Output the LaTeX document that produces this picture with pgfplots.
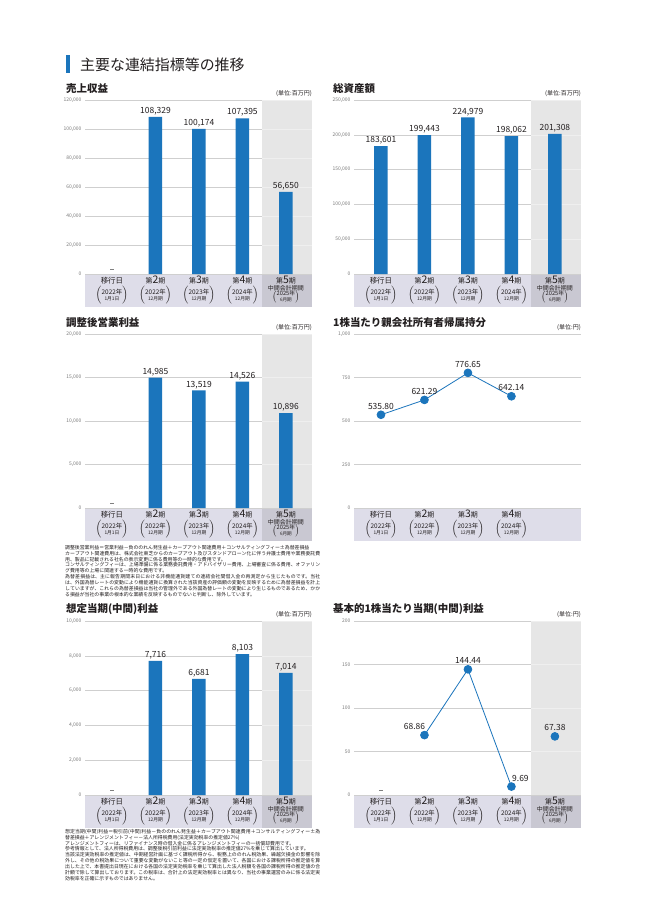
\documentclass[border=0pt]{standalone}
\usepackage{fontspec}
\setmainfont{Noto Sans CJK JP}
\usepackage{pgfplots}
\pgfplotsset{compat=1.18}
\XeTeXlinebreaklocale "ja"
\XeTeXlinebreakskip=0pt plus 1pt

\definecolor{barblue}{HTML}{1B75BC}
\definecolor{colgray}{HTML}{E6E6E6}
\definecolor{colgrid}{HTML}{EFEFEF}
\definecolor{bandcol}{HTML}{DEDDE9}
\definecolor{banddark}{HTML}{C9C8D2}
\definecolor{gridgray}{HTML}{CFCFCF}
\definecolor{tickgray}{HTML}{7A7A7A}
\definecolor{txt}{HTML}{231F20}

% category labels (each one a box, so the tick label mode does not matter)
\newcommand{\catlab}[1]{\hbox{\fontsize{7}{8}\selectfont\def\arraystretch{1}\begin{tabular}[t]{@{}c@{}}#1\end{tabular}}}
\newcommand{\ki}[1]{\rule{0pt}{8bp}{\fontsize{7}{8}\selectfont 第}{\fontsize{10.5}{10}\selectfont #1}{\fontsize{7}{8}\selectfont 期}}
\newcommand{\kk}[2]{$\left(\vcenter{\hbox{\fontsize{6.4}{6.4}\selectfont\begin{tabular}{@{}c@{}}#1\\\fontsize{4.8}{5}\selectfont #2\end{tabular}}}\right)$}
\newcommand{\kks}[2]{$\left(\vcenter{\hbox{\fontsize{5.8}{5.6}\selectfont\begin{tabular}{@{}c@{}}#1\\\fontsize{4.6}{4.6}\selectfont #2\end{tabular}}}\right)$}
\newcommand{\catA}{\catlab{\rule{0pt}{8bp}{\fontsize{7.5}{8}\selectfont 移行日}\\[0.5bp]\kk{2022年}{1月1日}}}
\newcommand{\catB}{\catlab{\ki{2}\\[0.5bp]\kk{2022年}{12月期}}}
\newcommand{\catC}{\catlab{\ki{3}\\[0.5bp]\kk{2023年}{12月期}}}
\newcommand{\catD}{\catlab{\ki{4}\\[0.5bp]\kk{2024年}{12月期}}}
\newcommand{\catE}{\catlab{\ki{5}\\[-1.5bp]{\fontsize{6}{6.2}\selectfont 中間会計期間}\\[-2bp]\kks{2025年}{6月期}}}

% background of one panel: category band, and the grey column of the 5th period
% #1 left x, #2 y of the zero line, #3 = 1 with the grey column
\newcommand{\panelbg}[3]{%
  \fill[bandcol] (#1bp,-#2bp) rectangle ++(227bp,-33bp);
  \ifnum#3=1
    \fill[colgray] (#1bp+177bp,-#2bp) rectangle ++(50bp,174bp);
    \fill[banddark] (#1bp+177bp,-#2bp) rectangle ++(50bp,-33bp);
  \fi}
\newcommand{\colgrid}[1]{\pgfplotsinvokeforeach{#1}{\draw[colgrid,line width=0.5bp] (axis cs:3.45,##1) -- (axis cs:4.6,##1);}}
\newcommand{\unit}[1]{\node[anchor=south east, inner sep=0, yshift=3.5bp, font=\fontsize{6}{6.5}\selectfont, text=txt] at (rel axis cs:1,1) {(単位:#1)};}
\newcommand{\dash}{\fill[black!50] ([xshift=-2.2bp,yshift=3.6bp]axis cs:0,0) rectangle ([xshift=2.2bp,yshift=4.6bp]axis cs:0,0);}

\pgfplotsset{
  panel/.style={
    scale only axis, width=227bp, height=174bp, anchor=south west,
    xmin=-0.62, xmax=4.6, ymin=0, clip=false,
    axis line style={draw=none}, major tick length=0pt,
    ymajorgrids, grid style={draw=gridgray, line width=0.5bp},
    xtick={0,...,4},
    scaled y ticks=false,
    /pgf/number format/fixed,
    /pgf/number format/assume math mode=true,
    /pgf/number format/1000 sep={,},
    yticklabel style={font=\fontsize{5}{5}\selectfont, text=tickgray},
    xticklabel style={text=txt, anchor=north, inner sep=1.5bp},
  },
  bars/.style={ybar, bar width=13.5bp, fill=barblue, draw=none,
    nodes near coords,
    every node near coord/.append style={font=\fontsize{8.5}{9}\selectfont, text=txt, inner sep=1bp, yshift=0.5bp}},
  lineplot/.style={color=barblue, line width=0.8bp, mark=*, mark size=3.9bp,
    mark options={solid, fill=barblue, draw=barblue},
    nodes near coords={\pgfmathprintnumber[fixed,fixed zerofill,precision=2]{\pgfplotspointmeta}},
    every node near coord/.append style={font=\fontsize{8.5}{9}\selectfont, text=txt, anchor=south, inner sep=1bp, yshift=4bp}},
}
\tikzset{
  ptitle/.style={anchor=base west, inner sep=0, font=\fontsize{10.5}{11}\selectfont\bfseries, text=txt},
  note/.style={anchor=north west, inner sep=0, text width=255bp, align=justify, font=\fontsize{4.9}{5.85}\selectfont, text=txt},
}

\begin{document}
\begin{tikzpicture}
\useasboundingbox[fill=white] (0,0) rectangle (648bp,-915bp);

\fill[barblue] (66bp,-55bp) rectangle (69.5bp,-73bp);
\node[anchor=base west, inner sep=0, font=\fontsize{15}{15}\selectfont, text=txt] at (80bp,-70.5bp) {主要な連結指標等の推移};

\node[ptitle] at (66bp,-92bp) {売上収益};
\node[ptitle] at (333bp,-92bp) {総資産額};
\node[ptitle] at (66bp,-326bp) {調整後営業利益};
\node[ptitle] at (333bp,-326bp) {1株当たり親会社所有者帰属持分};
\node[ptitle] at (66bp,-612bp) {想定当期(中間)利益};
\node[ptitle] at (333bp,-612bp) {基本的1株当たり当期(中間)利益};

\panelbg{85}{274}{1}
\panelbg{354}{274}{1}
\panelbg{85}{508}{1}
\panelbg{354}{508}{0}
\panelbg{85}{795}{1}
\panelbg{354}{795}{1}

% ---- 売上収益
\begin{axis}[panel, at={(85bp,-274bp)}, ymax=120000,
  ytick={0,20000,40000,60000,80000,100000,120000},
  xticklabels={\catA,\catB,\catC,\catD,\catE}]
\colgrid{20000,40000,60000,80000,100000,120000}
\addplot[bars] coordinates {(1,108329) (2,100174) (3,107395) (4,56650)};
\dash
\unit{百万円}
\end{axis}

% ---- 総資産額
\begin{axis}[panel, at={(354bp,-274bp)}, ymax=250000,
  ytick={0,50000,100000,150000,200000,250000},
  xticklabels={\catA,\catB,\catC,\catD,\catE}]
\colgrid{50000,100000,150000,200000,250000}
\addplot[bars] coordinates {(0,183601) (1,199443) (2,224979) (3,198062) (4,201308)};
\unit{百万円}
\end{axis}

% ---- 調整後営業利益
\begin{axis}[panel, at={(85bp,-508bp)}, ymax=20000,
  ytick={0,5000,10000,15000,20000},
  xticklabels={\catA,\catB,\catC,\catD,\catE}]
\colgrid{5000,10000,15000,20000}
\addplot[bars] coordinates {(1,14985) (2,13519) (3,14526) (4,10896)};
\dash
\unit{百万円}
\end{axis}

% ---- 1株当たり親会社所有者帰属持分
\begin{axis}[panel, at={(354bp,-508bp)}, ymax=1000,
  ytick={0,250,500,750,1000}, xtick={0,1,2,3},
  xticklabels={\catA,\catB,\catC,\catD}]
\addplot[lineplot] coordinates {(0,535.80) (1,621.29) (2,776.65) (3,642.14)};
\unit{円}
\end{axis}

% ---- 想定当期(中間)利益
\begin{axis}[panel, at={(85bp,-795bp)}, ymax=10000,
  ytick={0,2000,4000,6000,8000,10000},
  xticklabels={\catA,\catB,\catC,\catD,\catE}]
\colgrid{2000,4000,6000,8000,10000}
\addplot[bars] coordinates {(1,7716) (2,6681) (3,8103) (4,7014)};
\dash
\unit{百万円}
\end{axis}

% ---- 基本的1株当たり当期(中間)利益
\begin{axis}[panel, at={(354bp,-795bp)}, ymax=200,
  ytick={0,50,100,150,200},
  xticklabels={\catA,\catB,\catC,\catD,\catE}]
\colgrid{50,100,150,200}
\addplot[lineplot, visualization depends on={value \thisrow{dx}\as\dx},
  every node near coord/.append style={xshift=\dx bp}]
  table[x=x, y=y, row sep=\\] {x y dx\\ 1 68.86 -10\\ 2 144.44 0\\ 3 9.69 9\\};
\addplot[lineplot] coordinates {(4,67.38)};
\dash
\unit{円}
\end{axis}

% ---- notes
\node[note] at (65bp,-545bp) {調整後営業利益＝営業利益－負ののれん発生益＋カーブアウト関連費用＋コンサルティングフィー±為替差損益\\
カーブアウト関連費用は、株式会社東芝からのカーブアウト及びスタンドアローン化に伴う弁護士費用や業務委託費用、製品に記載される社名の表示変更に係る費用等の一時的な費用です。\\
コンサルティングフィーは、上場準備に係る業務委託費用・アドバイザリー費用、上場審査に係る費用、オファリング費用等の上場に関連する一時的な費用です。\\
為替差損益は、主に報告期間末日における非機能通貨建ての連結会社間借入金の再測定から生じたものです。当社は、外国為替レートの変動により機能通貨に換算された当該資産の評価額の変動を反映するために為替差損益を計上していますが、これらの為替差損益は当社の管理外である外国為替レートの変動により生じるものであるため、かかる損益が当社の事業の根本的な業績を反映するものでないと判断し、除外しています。};

\node[note] at (65bp,-829bp) {想定当期(中間)利益＝税引前(中間)利益－負ののれん発生益＋カーブアウト関連費用＋コンサルティングフィー±為替差損益＋アレンジメントフィー－法人所得税費用(法定実効税率の推定値27\%)\\
アレンジメントフィーは、リファイナンス時の借入金に係るアレンジメントフィーの一括償却費用です。\\
参考情報として、法人所得税費用は、調整後税引前利益に法定実効税率の推定値27\%を乗じて算出しています。\\
当該法定実効税率の推定値は、中期経営計画に基づく課税所得から、税務上ののれん税効果、繰越欠損金の影響を除外し、その他の税効果について重要な変動がないこと等の一定の仮定を置いて、各国における課税所得の推定値を算出した上で、本書提出日現在における各国の法定実効税率を乗じて算出した法人税額を各国の課税所得の推定値の合計額で除して算出しております。この税率は、合計上の法定実効税率とは異なり、当社の事業運営のみに係る法定実効税率を正確に示すものではありません。};
\end{tikzpicture}
\end{document}
